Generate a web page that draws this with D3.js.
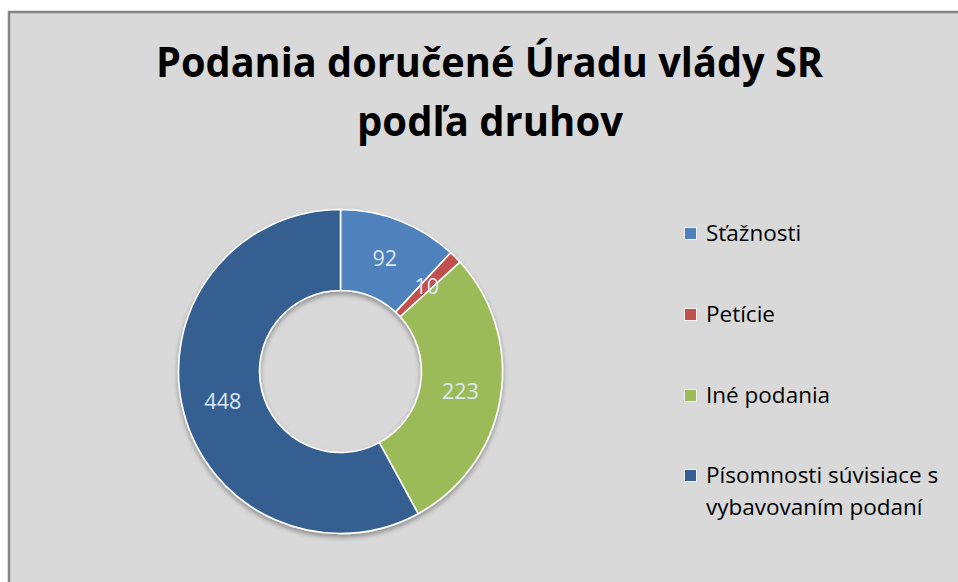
<!DOCTYPE html>
<html>
<head>
<meta charset="utf-8">
<script src="https://cdn.jsdelivr.net/npm/d3@7"></script>
<style>
  html, body { margin: 0; padding: 0; background: #ffffff; }
  svg { display: block; }
</style>
</head>
<body>
<svg id="chart" width="958" height="582"></svg>
<script>
// ---- data ----
const titleLines = ["Podania doručené Úradu vlády SR", "podľa druhov"];
const categories = ["Sťažnosti", "Petície", "Iné podania", "Písomnosti súvisiace s vybavovaním podaní"];
const legendLines = [["Sťažnosti"], ["Petície"], ["Iné podania"], ["Písomnosti súvisiace s", "vybavovaním podaní"]];
const values = [92, 10, 223, 448];

// ---- style ----
const colors = ["#4f81bd", "#c0504d", "#9bbb59", "#365f91"];
const W = 958, H = 582;
const cx = 340.5, cy = 371.5, rOuter = 162, rInner = 81;
const fontFamily = "'Open Sans', 'Noto Sans', sans-serif";

const svg = d3.select("#chart");

const defs = svg.append("defs");
const f = defs.append("filter").attr("id", "shadow")
  .attr("x", "-20%").attr("y", "-20%").attr("width", "140%").attr("height", "140%");
f.append("feDropShadow").attr("dx", 0).attr("dy", 3).attr("stdDeviation", 2.5)
  .attr("flood-color", "#000").attr("flood-opacity", 0.35);

// panel
svg.append("rect").attr("x", 9).attr("y", 12).attr("width", W).attr("height", H)
  .attr("fill", "#d9d9d9").attr("stroke", "#858585").attr("stroke-width", 2.5);

// title
const titleBaselines = [77, 136];
const titleWidths = [667, 266];
const titleCenters = [489.5, 490];
titleLines.forEach((t, i) => {
  svg.append("text")
    .attr("x", titleCenters[i]).attr("y", titleBaselines[i])
    .attr("text-anchor", "middle")
    .attr("font-family", fontFamily).attr("font-weight", 700)
    .attr("font-size", 42).attr("fill", "#000")
    .attr("textLength", titleWidths[i]).attr("lengthAdjust", "spacingAndGlyphs")
    .text(t);
});

// donut
const pie = d3.pie().sort(null).value(d => d)(values);
const arc = d3.arc().innerRadius(rInner).outerRadius(rOuter);
const labelArc = d3.arc().innerRadius((rInner + rOuter) / 2).outerRadius((rInner + rOuter) / 2);
const g = svg.append("g").attr("transform", `translate(${cx},${cy})`);
const ring = g.append("g").attr("filter", "url(#shadow)");
ring.selectAll("path").data(pie).join("path")
  .attr("d", arc)
  .attr("fill", (d, i) => colors[i])
  .attr("stroke", "#ffffff").attr("stroke-width", 1.6).attr("stroke-linejoin", "round");

g.selectAll("text.lbl").data(pie).join("text")
  .attr("class", "lbl")
  .attr("transform", d => `translate(${labelArc.centroid(d)})`)
  .attr("text-anchor", "middle").attr("dy", "0.36em")
  .attr("font-family", fontFamily).attr("font-size", 21.5)
  .attr("fill", "#dde7f3")
  .text(d => d.data);

// legend
const legendBaselines = [241, 322, 403, 483];
const lg = svg.append("g");
legendLines.forEach((lines, i) => {
  const by = legendBaselines[i];
  lg.append("rect").attr("x", 684.5).attr("y", by - 13.5).attr("width", 12).attr("height", 12)
    .attr("fill", colors[i]).attr("stroke", "#f0f0f0").attr("stroke-width", 1);
  lines.forEach((t, j) => {
    lg.append("text").attr("x", 706).attr("y", by + j * 32)
      .attr("font-family", fontFamily).attr("font-size", 22.5).attr("fill", "#000")
      .text(t);
  });
});
</script>
</body>
</html>
